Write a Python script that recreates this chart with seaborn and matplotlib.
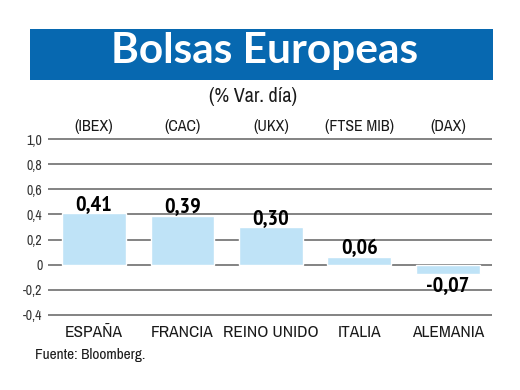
import matplotlib
matplotlib.use("Agg")
import matplotlib.pyplot as plt
import seaborn as sns
import pandas as pd
from matplotlib.patches import Rectangle

countries = ["ESPAÑA", "FRANCIA", "REINO UNIDO", "ITALIA", "ALEMANIA"]
indices = ["(IBEX)", "(CAC)", "(UKX)", "(FTSE MIB)", "(DAX)"]
values = [0.41, 0.39, 0.30, 0.06, -0.07]
yticks = [1.0, 0.8, 0.6, 0.4, 0.2, 0.0, -0.2, -0.4]
ytick_labels = ["1,0", "0,8", "0,6", "0,4", "0,2", "0", "-0,2", "-0,4"]

sns.set_theme(style="white")
NARROW = ["Archivo Narrow", "DejaVu Sans"]
BOLD_NARROW = ["PT Sans Narrow", "DejaVu Sans"]
plt.rcParams["font.family"] = NARROW

W, H = 520, 390
fig = plt.figure(figsize=(W / 100, H / 100), dpi=100)
fig.patch.set_facecolor("white")

# Title banner
fig.patches.append(Rectangle((30 / W, 1 - 80 / H), 463 / W, 51 / H,
                             transform=fig.transFigure, facecolor="#0768b0",
                             edgecolor="none", zorder=0))
fig.text(265 / W, 1 - 63 / H, "Bolsas Europeas", color="white",
         fontsize=30.5, fontweight="bold", family=["Lato", "DejaVu Sans"],
         ha="center", va="baseline")
fig.text(253 / W, 1 - 96 / H, "(% Var. día)", color="#1a1a1a",
         fontsize=14.5, ha="center", va="center")
fig.text(35 / W, 1 - 355 / H, "Fuente: Bloomberg.", color="#1a1a1a",
         fontsize=11, ha="left", va="center")

ax = fig.add_axes([48 / W, 1 - 315 / H, 444 / W, 176 / H])
df = pd.DataFrame({"pais": countries, "valor": values})
ax.hlines(yticks, -0.52, 4.5, colors="#7a7a7a", linewidth=1.3,
          zorder=0, clip_on=False)
sns.barplot(data=df, x="pais", y="valor", color="#bfe3f7", saturation=1,
            width=0.72, ax=ax, zorder=2)
ax.set_xlim(-0.52, 4.5)
ax.set_ylim(-0.4, 1.0)
for s in ax.spines.values():
    s.set_visible(False)
ax.set_xlabel("")
ax.set_ylabel("")
ax.set_yticks(yticks)
ax.set_yticklabels(ytick_labels, fontsize=10, color="#333333")
ax.tick_params(axis="y", length=0, pad=4)
ax.set_xticks(range(len(countries)))
ax.set_xticklabels(countries, fontsize=12.5, color="#1a1a1a")
ax.tick_params(axis="x", length=0, pad=7)
ax.set_facecolor("none")

for i, (idx, v) in enumerate(zip(indices, values)):
    ax.annotate(idx, xy=(i, 1.0), xytext=(0, 9), textcoords="offset points",
                ha="center", va="center", fontsize=11.5, color="#1a1a1a",
                annotation_clip=False)
    lab = f"{v:.2f}".replace(".", ",")
    if v >= 0:
        ax.annotate(lab, xy=(i, v), xytext=(0, 2.5), textcoords="offset points",
                    ha="center", va="baseline", fontsize=16, fontweight="bold",
                    family=BOLD_NARROW, color="black", zorder=5)
    else:
        ax.annotate(lab, xy=(i, v), xytext=(0, -1.5), textcoords="offset points",
                    ha="center", va="top", fontsize=16, fontweight="bold",
                    family=BOLD_NARROW, color="black", zorder=5)

fig.savefig("out.png", dpi=100)
